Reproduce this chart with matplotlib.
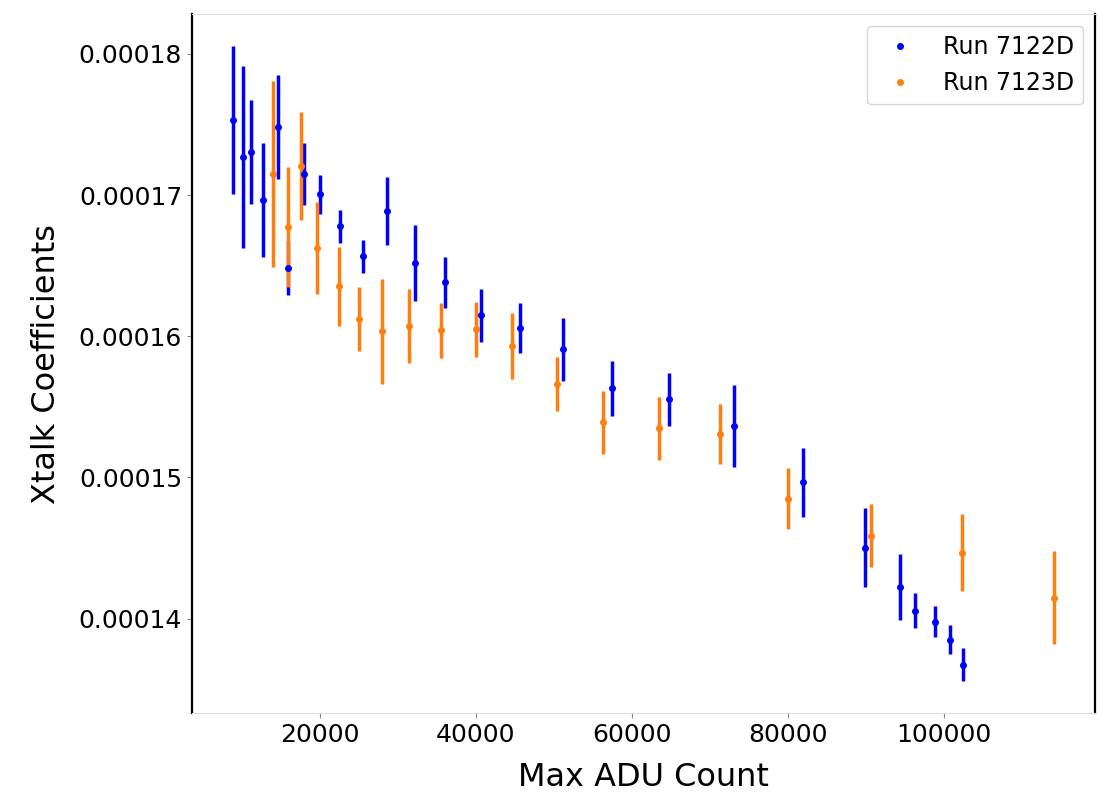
import numpy as np
import matplotlib
matplotlib.use("Agg")
import matplotlib.pyplot as plt
from matplotlib.ticker import FormatStrFormatter

# Run 7122D: max ADU count, xtalk coefficient and its error
adu_7122 = [8850, 10130, 11160, 12700, 14620, 15900, 17950, 20000, 22570,
            25520, 28590, 32180, 36030, 40640, 45640, 51160, 57440, 64750,
            73080, 81920, 89870, 94360, 96280, 98850, 100770, 102440]
coef_7122 = [1.7532e-4, 1.7270e-4, 1.7305e-4, 1.6965e-4, 1.7482e-4, 1.6482e-4,
             1.7149e-4, 1.7007e-4, 1.6780e-4, 1.6567e-4, 1.6887e-4, 1.6518e-4,
             1.6383e-4, 1.6149e-4, 1.6057e-4, 1.5908e-4, 1.5631e-4, 1.5553e-4,
             1.5362e-4, 1.4965e-4, 1.4504e-4, 1.4227e-4, 1.4057e-4, 1.3979e-4,
             1.3851e-4, 1.3674e-4]
err_7122 = [0.525e-5, 0.642e-5, 0.369e-5, 0.404e-5, 0.369e-5, 0.190e-5,
            0.223e-5, 0.138e-5, 0.117e-5, 0.117e-5, 0.241e-5, 0.270e-5,
            0.181e-5, 0.188e-5, 0.177e-5, 0.223e-5, 0.195e-5, 0.188e-5,
            0.291e-5, 0.245e-5, 0.280e-5, 0.234e-5, 0.124e-5, 0.110e-5,
            0.103e-5, 0.117e-5]

# Run 7123D
adu_7123 = [13980, 15900, 17570, 19620, 22440, 25000, 27950, 31410, 35520,
            40000, 44620, 50390, 56280, 63460, 71280, 80000, 90640, 102310,
            114100]
coef_7123 = [1.7149e-4, 1.6773e-4, 1.7206e-4, 1.6624e-4, 1.6355e-4, 1.6121e-4,
             1.6035e-4, 1.6071e-4, 1.6043e-4, 1.6050e-4, 1.5929e-4, 1.5660e-4,
             1.5390e-4, 1.5348e-4, 1.5305e-4, 1.4851e-4, 1.4589e-4, 1.4468e-4,
             1.4149e-4]
err_7123 = [0.660e-5, 0.422e-5, 0.383e-5, 0.326e-5, 0.280e-5, 0.227e-5,
            0.372e-5, 0.262e-5, 0.195e-5, 0.195e-5, 0.234e-5, 0.191e-5,
            0.223e-5, 0.223e-5, 0.213e-5, 0.216e-5, 0.223e-5, 0.273e-5,
            0.330e-5]

labels = ["Run 7122D", "Run 7123D"]
colors = ["blue", "#ff7f0e"]

fig = plt.figure(figsize=(11.07, 7.95), dpi=100)
ax = fig.add_axes([0.1734, 0.1031, 0.8158, 0.8793])

# error bars first, markers on top
ax.errorbar(adu_7122, coef_7122, yerr=err_7122, fmt="none", ecolor=colors[0], elinewidth=2.5)
ax.errorbar(adu_7123, coef_7123, yerr=err_7123, fmt="none", ecolor=colors[1], elinewidth=2.5)
ax.plot(adu_7122, coef_7122, ".", color=colors[0], ms=8, label=labels[0])
ax.plot(adu_7123, coef_7123, ".", color=colors[1], ms=8, label=labels[1])

ax.set_yticks([0.00014, 0.00015, 0.00016, 0.00017, 0.00018])
ax.yaxis.set_major_formatter(FormatStrFormatter("%.5f"))
ax.tick_params(labelsize=18, color="#888888")

ax.spines["top"].set_color("#dddddd")
ax.spines["bottom"].set_color("#dddddd")
ax.spines["left"].set_linewidth(1.6)
ax.spines["right"].set_linewidth(1.6)

ax.set_xlabel("Max ADU Count", fontsize=23)
ax.set_ylabel("Xtalk Coefficients", fontsize=23)
ax.xaxis.set_label_coords(0.5, -0.07)
ax.yaxis.set_label_coords(-0.144, 0.5)

ax.legend(loc="upper right", fontsize=17)

fig.savefig("out.png", dpi=100)
